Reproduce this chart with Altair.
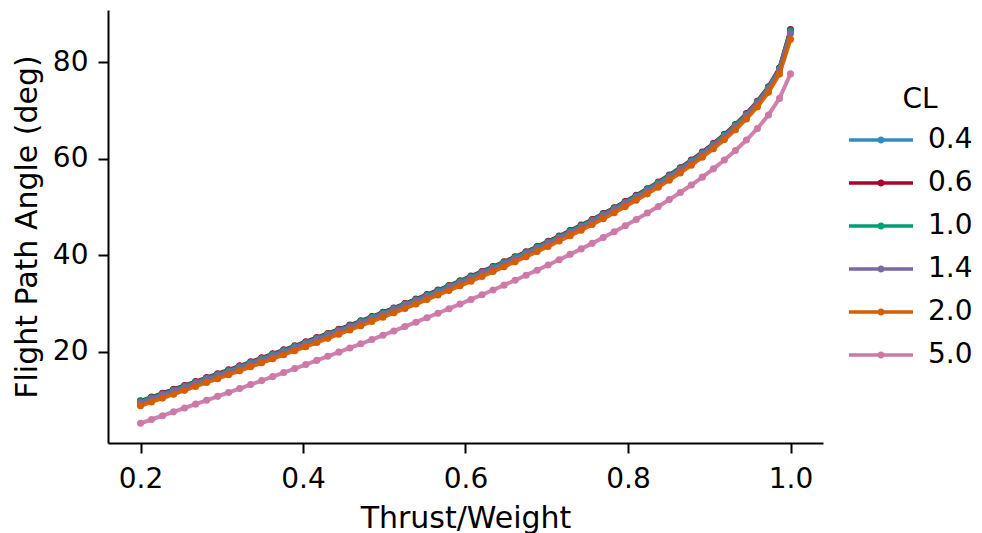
import altair as alt
import pandas as pd

# Thrust/Weight grid (60 points)
thrust_weight = [
    0.20000, 0.21356, 0.22712, 0.24068, 0.25424, 0.26780, 0.28136, 0.29492, 0.30847, 0.32203,
    0.33559, 0.34915, 0.36271, 0.37627, 0.38983, 0.40339, 0.41695, 0.43051, 0.44407, 0.45763,
    0.47119, 0.48475, 0.49831, 0.51186, 0.52542, 0.53898, 0.55254, 0.56610, 0.57966, 0.59322,
    0.60678, 0.62034, 0.63390, 0.64746, 0.66102, 0.67458, 0.68814, 0.70169, 0.71525, 0.72881,
    0.74237, 0.75593, 0.76949, 0.78305, 0.79661, 0.81017, 0.82373, 0.83729, 0.85085, 0.86441,
    0.87797, 0.89153, 0.90508, 0.91864, 0.93220, 0.94576, 0.95932, 0.97288, 0.98644, 1.00000,
]

cl_labels = ["0.4", "0.6", "1.0", "1.4", "2.0", "5.0"]
colors = ["#348ABD", "#A60628", "#009E73", "#7A68A6", "#D55E00", "#CC79A7"]

gamma_cl_0_4 = [
    9.78, 10.58, 11.37, 12.17, 12.97, 13.78, 14.59, 15.40, 16.21, 17.03,
    17.85, 18.68, 19.51, 20.34, 21.18, 22.03, 22.88, 23.74, 24.61, 25.48,
    26.35, 27.24, 28.13, 29.03, 29.94, 30.85, 31.78, 32.72, 33.67, 34.63,
    35.59, 36.57, 37.57, 38.58, 39.61, 40.65, 41.71, 42.79, 43.89, 45.02,
    46.15, 47.32, 48.53, 49.76, 51.02, 52.33, 53.67, 55.06, 56.51, 58.02,
    59.60, 61.26, 63.03, 64.92, 66.96, 69.22, 71.76, 74.76, 78.64, 86.50,
]
gamma_cl_0_6 = [
    9.88, 10.68, 11.47, 12.27, 13.07, 13.88, 14.69, 15.50, 16.31, 17.13,
    17.95, 18.78, 19.61, 20.44, 21.28, 22.13, 22.98, 23.84, 24.70, 25.57,
    26.45, 27.33, 28.22, 29.12, 30.03, 30.95, 31.88, 32.81, 33.76, 34.72,
    35.69, 36.67, 37.67, 38.68, 39.70, 40.75, 41.81, 42.89, 43.99, 45.11,
    46.25, 47.42, 48.63, 49.86, 51.12, 52.43, 53.77, 55.17, 56.61, 58.12,
    59.70, 61.37, 63.13, 65.02, 67.07, 69.32, 71.87, 74.88, 78.76, 86.70,
]
gamma_cl_1_0 = [
    9.73, 10.53, 11.32, 12.12, 12.92, 13.73, 14.54, 15.35, 16.16, 16.98,
    17.80, 18.63, 19.46, 20.29, 21.13, 21.98, 22.83, 23.69, 24.56, 25.43,
    26.30, 27.19, 28.08, 28.98, 29.89, 30.80, 31.73, 32.67, 33.62, 34.58,
    35.54, 36.52, 37.52, 38.53, 39.56, 40.60, 41.66, 42.74, 43.84, 44.97,
    46.10, 47.27, 48.48, 49.71, 50.97, 52.28, 53.62, 55.01, 56.46, 57.97,
    59.55, 61.21, 62.98, 64.87, 66.91, 69.17, 71.71, 74.70, 78.58, 86.40,
]
gamma_cl_1_4 = [
    9.48, 10.28, 11.07, 11.87, 12.67, 13.48, 14.28, 15.09, 15.90, 16.72,
    17.54, 18.37, 19.20, 20.03, 20.87, 21.72, 22.57, 23.43, 24.30, 25.17,
    26.04, 26.93, 27.82, 28.72, 29.63, 30.54, 31.47, 32.41, 33.36, 34.32,
    35.28, 36.26, 37.26, 38.27, 39.30, 40.34, 41.40, 42.48, 43.58, 44.71,
    45.84, 47.01, 48.22, 49.45, 50.71, 52.02, 53.36, 54.74, 56.19, 57.70,
    59.28, 60.94, 62.71, 64.60, 66.63, 68.89, 71.43, 74.42, 78.28, 85.90,
]
gamma_cl_2_0 = [
    8.87, 9.67, 10.46, 11.26, 12.06, 12.87, 13.67, 14.48, 15.30, 16.12,
    16.94, 17.76, 18.59, 19.43, 20.27, 21.11, 21.96, 22.82, 23.69, 24.56,
    25.43, 26.31, 27.20, 28.10, 29.01, 29.92, 30.85, 31.79, 32.73, 33.69,
    34.66, 35.64, 36.64, 37.65, 38.67, 39.72, 40.78, 41.85, 42.95, 44.07,
    45.21, 46.38, 47.58, 48.81, 50.08, 51.38, 52.72, 54.11, 55.56, 57.06,
    58.64, 60.30, 62.05, 63.94, 65.97, 68.22, 70.74, 73.72, 77.54, 84.70,
]
gamma_cl_5_0 = [
    5.24, 6.03, 6.82, 7.61, 8.41, 9.21, 10.01, 10.82, 11.63, 12.44,
    13.26, 14.08, 14.91, 15.74, 16.57, 17.41, 18.26, 19.11, 19.97, 20.83,
    21.70, 22.58, 23.46, 24.36, 25.26, 26.17, 27.09, 28.02, 28.96, 29.91,
    30.87, 31.84, 32.83, 33.83, 34.85, 35.88, 36.93, 38.00, 39.09, 40.20,
    41.33, 42.48, 43.67, 44.88, 46.13, 47.41, 48.74, 50.11, 51.53, 53.00,
    54.55, 56.18, 57.89, 59.72, 61.70, 63.85, 66.26, 69.04, 72.47, 77.54,
]

x_ticks = [0.2, 0.4, 0.6, 0.8, 1.0]
y_ticks = [20, 40, 60, 80]

series = [gamma_cl_0_4, gamma_cl_0_6, gamma_cl_1_0, gamma_cl_1_4, gamma_cl_2_0, gamma_cl_5_0]
rows = []
for lab, ys in zip(cl_labels, series):
    for xv, yv in zip(thrust_weight, ys):
        rows.append({"tw": xv, "gamma": yv, "CL": lab})
df = pd.DataFrame(rows)

FONT = "DejaVu Sans"
FS = 28
TFS = 30

x_enc = alt.X(
    "tw:Q",
    title="Thrust/Weight",
    scale=alt.Scale(domain=[0.16, 1.04], nice=False, zero=False),
    axis=alt.Axis(values=x_ticks, format=".1f", labelPadding=12, titlePadding=10),
)
y_enc = alt.Y(
    "gamma:Q",
    title="Flight Path Angle (deg)",
    scale=alt.Scale(domain=[1.17, 90.76], nice=False, zero=False),
    axis=alt.Axis(values=y_ticks, labelPadding=10, titlePadding=10),
)
color_scale = alt.Scale(domain=cl_labels, range=colors)

legend_path = (
    "M-3.2,-0.18H3.2V0.18H-3.2Z"
    "M0.36,0A0.36,0.36,0,1,1,-0.36,0A0.36,0.36,0,1,1,0.36,0Z"
)
legend = alt.Legend(
    title="CL",
    orient="none",
    legendX=759,
    legendY=76,
    symbolType=legend_path,
    symbolSize=400,
    symbolStrokeWidth=0,
    symbolOpacity=1,
    labelOffset=33,
    titleAnchor="middle",
    titlePadding=12,
    rowPadding=15,
    padding=0,
)
color_enc = alt.Color("CL:N", scale=color_scale, legend=legend, title="CL")

layers = []
for lab in cl_labels:
    base = alt.Chart(df).transform_filter(alt.datum.CL == lab).encode(
        x=x_enc, y=y_enc, color=color_enc
    )
    layers.append(base.mark_line(strokeWidth=4, opacity=0.95))
    layers.append(base.mark_point(filled=True, size=50, opacity=1))

chart = (
    alt.layer(*layers)
    .properties(
        width=715,
        height=433,
        autosize=alt.AutoSizeParams(type="none"),
        padding={"left": 100, "top": 2, "right": 151, "bottom": 90},
    )
    .configure_view(stroke=None)
    .configure_axis(
        grid=False,
        domainColor="#000000",
        domainWidth=2,
        tickColor="#000000",
        tickWidth=2,
        tickSize=10,
        labelFont=FONT,
        labelFontSize=FS,
        labelColor="#000000",
        titleFont=FONT,
        titleFontSize=TFS,
        titleFontWeight="normal",
        titleColor="#000000",
    )
    .configure_legend(
        labelFont=FONT,
        labelFontSize=FS,
        labelColor="#000000",
        titleFont=FONT,
        titleFontSize=FS,
        titleFontWeight="normal",
        titleColor="#000000",
    )
)

chart.save("out.html", embed_options={"renderer": "svg", "actions": False})
